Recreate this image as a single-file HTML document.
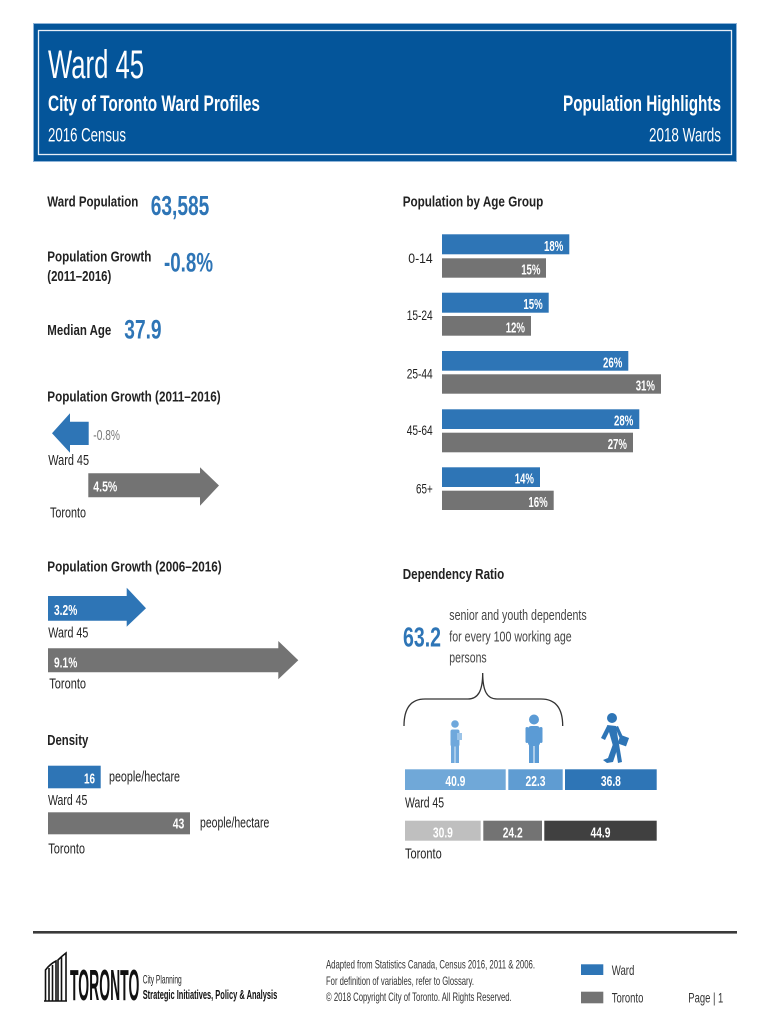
<!DOCTYPE html>
<html>
<head>
<meta charset="utf-8">
<style>
html,body{margin:0;padding:0;background:#fff;}
svg{display:block;}
text{font-family:"Liberation Sans",Arial,sans-serif;}
</style>
</head>
<body>
<svg width="770" height="1024" viewBox="0 0 770 1024" xmlns="http://www.w3.org/2000/svg">
<rect x="0" y="0" width="770" height="1024" fill="#ffffff"/>

<!-- Header -->
<rect x="33" y="23" width="704" height="139" fill="#04559a"/>
<rect x="33.5" y="23.5" width="703" height="138" fill="none" stroke="#8fb4d8" stroke-width="1"/>
<rect x="38.5" y="30.5" width="693" height="124" fill="none" stroke="#e6eef7" stroke-width="1.3"/>
<text x="48" y="78" font-size="40" fill="#fff" textLength="96" lengthAdjust="spacingAndGlyphs">Ward 45</text>
<text x="48" y="111" font-size="22" font-weight="bold" fill="#fff" textLength="212" lengthAdjust="spacingAndGlyphs">City of Toronto Ward Profiles</text>
<text x="48" y="141.5" font-size="19" fill="#fff" textLength="78" lengthAdjust="spacingAndGlyphs">2016 Census</text>
<text x="563" y="111" font-size="22" font-weight="bold" fill="#fff" textLength="158" lengthAdjust="spacingAndGlyphs">Population Highlights</text>
<text x="649" y="141.5" font-size="19" fill="#fff" textLength="72" lengthAdjust="spacingAndGlyphs">2018 Wards</text>

<!-- Key figures -->
<text x="47.3" y="206.7" font-size="15" font-weight="bold" fill="#222" textLength="91" lengthAdjust="spacingAndGlyphs">Ward Population</text>
<text x="150.7" y="215" font-size="28" font-weight="bold" fill="#2e75b6" textLength="58.6" lengthAdjust="spacingAndGlyphs">63,585</text>
<text x="47.3" y="261.7" font-size="15" font-weight="bold" fill="#222" textLength="104" lengthAdjust="spacingAndGlyphs">Population Growth</text>
<text x="47.3" y="281" font-size="15" font-weight="bold" fill="#222" textLength="64" lengthAdjust="spacingAndGlyphs">(2011–2016)</text>
<text x="164" y="271.7" font-size="27" font-weight="bold" fill="#2e75b6" textLength="49" lengthAdjust="spacingAndGlyphs">-0.8%</text>
<text x="47.3" y="335" font-size="15" font-weight="bold" fill="#222" textLength="64" lengthAdjust="spacingAndGlyphs">Median Age</text>
<text x="124.3" y="338.3" font-size="27" font-weight="bold" fill="#2e75b6" textLength="37.3" lengthAdjust="spacingAndGlyphs">37.9</text>

<!-- Population growth 2011-2016 -->
<text x="47.3" y="401.7" font-size="15" font-weight="bold" fill="#222" textLength="173.4" lengthAdjust="spacingAndGlyphs">Population Growth (2011–2016)</text>
<polygon points="52,433.3 70,413.3 70,421.7 88.7,421.7 88.7,445 70,445 70,452.7" fill="#2e75b6"/>
<text x="93.3" y="440" font-size="15" fill="#7a7a7a" textLength="26.7" lengthAdjust="spacingAndGlyphs">-0.8%</text>
<text x="48.3" y="465" font-size="15" fill="#222" textLength="40.7" lengthAdjust="spacingAndGlyphs">Ward 45</text>
<polygon points="88.3,473.3 200,473.3 200,467.3 219,485.5 200,505.7 200,497.3 88.3,497.3" fill="#737373"/>
<text x="93.3" y="491.7" font-size="15" font-weight="bold" fill="#fff" textLength="24" lengthAdjust="spacingAndGlyphs">4.5%</text>
<text x="50" y="517.3" font-size="15" fill="#222" textLength="36" lengthAdjust="spacingAndGlyphs">Toronto</text>

<!-- Population growth 2006-2016 -->
<text x="47.3" y="571.7" font-size="15" font-weight="bold" fill="#222" textLength="174.4" lengthAdjust="spacingAndGlyphs">Population Growth (2006–2016)</text>
<polygon points="48,596 126.7,596 126.7,587.7 146,608.3 126.7,626.7 126.7,620.7 48,620.7" fill="#2e75b6"/>
<text x="54" y="615" font-size="15" font-weight="bold" fill="#fff" textLength="23.3" lengthAdjust="spacingAndGlyphs">3.2%</text>
<text x="48.3" y="637.3" font-size="15" fill="#222" textLength="40" lengthAdjust="spacingAndGlyphs">Ward 45</text>
<polygon points="48,648.3 278.3,648.3 278.3,641 298.3,660.3 278.3,679.3 278.3,672.3 48,672.3" fill="#737373"/>
<text x="54" y="667.3" font-size="15" font-weight="bold" fill="#fff" textLength="23.3" lengthAdjust="spacingAndGlyphs">9.1%</text>
<text x="49.3" y="688.3" font-size="15" fill="#222" textLength="36.7" lengthAdjust="spacingAndGlyphs">Toronto</text>

<!-- Density -->
<text x="47.3" y="745" font-size="15" font-weight="bold" fill="#222" textLength="41" lengthAdjust="spacingAndGlyphs">Density</text>
<rect x="48" y="765.7" width="52.7" height="22.6" fill="#2e75b6"/>
<text x="95" y="783.3" font-size="15" font-weight="bold" fill="#fff" text-anchor="end" textLength="11" lengthAdjust="spacingAndGlyphs">16</text>
<text x="109" y="781.7" font-size="15" fill="#222" textLength="71" lengthAdjust="spacingAndGlyphs">people/hectare</text>
<text x="48" y="805" font-size="15" fill="#222" textLength="39.3" lengthAdjust="spacingAndGlyphs">Ward 45</text>
<rect x="48" y="812.3" width="142" height="22" fill="#737373"/>
<text x="184.3" y="828.3" font-size="15" font-weight="bold" fill="#fff" text-anchor="end" textLength="11.6" lengthAdjust="spacingAndGlyphs">43</text>
<text x="200" y="827.3" font-size="15" fill="#222" textLength="69.3" lengthAdjust="spacingAndGlyphs">people/hectare</text>
<text x="48.3" y="853.3" font-size="15" fill="#222" textLength="36.7" lengthAdjust="spacingAndGlyphs">Toronto</text>

<!-- Population by age group -->
<text x="402.7" y="206.7" font-size="15" font-weight="bold" fill="#222" textLength="140.6" lengthAdjust="spacingAndGlyphs">Population by Age Group</text>
<g font-size="14" fill="#222" text-anchor="end">
<text x="432.7" y="263" textLength="24.4" lengthAdjust="spacingAndGlyphs">0-14</text>
<text x="432.7" y="320" textLength="26" lengthAdjust="spacingAndGlyphs">15-24</text>
<text x="432.7" y="378.3" textLength="26" lengthAdjust="spacingAndGlyphs">25-44</text>
<text x="432.7" y="435" textLength="26" lengthAdjust="spacingAndGlyphs">45-64</text>
<text x="432.7" y="493.3" textLength="16.7" lengthAdjust="spacingAndGlyphs">65+</text>
</g>
<g>
<rect x="442" y="234.3" width="127.3" height="20" fill="#2e75b6"/>
<rect x="442" y="258.3" width="104" height="19.4" fill="#737373"/>
<rect x="442" y="292.7" width="106.7" height="20" fill="#2e75b6"/>
<rect x="442" y="316" width="89" height="19.7" fill="#737373"/>
<rect x="442" y="351" width="186.3" height="19.7" fill="#2e75b6"/>
<rect x="442" y="374.3" width="219" height="19.4" fill="#737373"/>
<rect x="442" y="409.3" width="197.3" height="19.7" fill="#2e75b6"/>
<rect x="442" y="432.7" width="191" height="19.6" fill="#737373"/>
<rect x="442" y="467.3" width="98" height="19.7" fill="#2e75b6"/>
<rect x="442" y="490.7" width="111.7" height="19.3" fill="#737373"/>
</g>
<g font-size="15" font-weight="bold" fill="#fff" text-anchor="end">
<text x="563.3" y="250.8" textLength="19.3" lengthAdjust="spacingAndGlyphs">18%</text>
<text x="540.5" y="274.5" textLength="19.3" lengthAdjust="spacingAndGlyphs">15%</text>
<text x="542.7" y="309" textLength="19.3" lengthAdjust="spacingAndGlyphs">15%</text>
<text x="525" y="332.3" textLength="19.3" lengthAdjust="spacingAndGlyphs">12%</text>
<text x="622.3" y="367.3" textLength="19.3" lengthAdjust="spacingAndGlyphs">26%</text>
<text x="655" y="390.6" textLength="19.3" lengthAdjust="spacingAndGlyphs">31%</text>
<text x="633.3" y="425.6" textLength="19.3" lengthAdjust="spacingAndGlyphs">28%</text>
<text x="627" y="449" textLength="19.3" lengthAdjust="spacingAndGlyphs">27%</text>
<text x="534" y="483.6" textLength="19.3" lengthAdjust="spacingAndGlyphs">14%</text>
<text x="547.7" y="507" textLength="19.3" lengthAdjust="spacingAndGlyphs">16%</text>
</g>

<!-- Dependency ratio -->
<text x="402.7" y="579" font-size="15" font-weight="bold" fill="#222" textLength="101.6" lengthAdjust="spacingAndGlyphs">Dependency Ratio</text>
<text x="403" y="646.7" font-size="28" font-weight="bold" fill="#2e75b6" textLength="38" lengthAdjust="spacingAndGlyphs">63.2</text>
<text x="449.3" y="620" font-size="15" fill="#444" textLength="137.4" lengthAdjust="spacingAndGlyphs">senior and youth dependents</text>
<text x="449.3" y="641.7" font-size="15" fill="#444" textLength="122.4" lengthAdjust="spacingAndGlyphs">for every 100 working age</text>
<text x="449.3" y="662.5" font-size="15" fill="#444" textLength="37.4" lengthAdjust="spacingAndGlyphs">persons</text>
<path d="M404,726 C404,709 410,699 425,699 L468,699 C478,699 482.7,691 482.7,673 C482.7,691 487,699 497,699 L541,699 C556,699 562.7,709 562.7,726" fill="none" stroke="#333" stroke-width="1.3"/>

<!-- icons -->
<g fill="#6fa8dc">
<circle cx="455" cy="724" r="3.8"/>
<rect x="450.5" y="729.5" width="9" height="17" rx="2"/>
<rect x="451" y="745" width="3.6" height="18"/>
<rect x="455.4" y="745" width="3.6" height="18"/>
<rect x="457" y="733" width="5" height="7" fill="#9cc4e8"/>
</g>
<g fill="#5b9bd5">
<circle cx="534" cy="719.5" r="5"/>
<rect x="528" y="726" width="12" height="20" rx="3"/>
<rect x="525.5" y="727" width="3" height="16" rx="1.5"/>
<rect x="539.5" y="727" width="3" height="16" rx="1.5"/>
<rect x="529" y="744" width="4.5" height="19"/>
<rect x="534.5" y="744" width="4.5" height="19"/>
</g>
<g fill="#2e75b6">
<circle cx="612" cy="718" r="5"/>
<polygon points="607,725 616,726 619,745 613,746"/>
<polygon points="613,744 619,744 613,762 607,763 603,760 608,758"/>
<polygon points="615,744 619,744 622,762 618,763"/>
<polygon points="607,726 611,728 605,740 601,738"/>
<polygon points="615,727 618,726 623,737 620,739"/>
<rect x="619" y="736" width="9" height="9" transform="rotate(20 623 740)"/>
</g>

<!-- dependency bars -->
<rect x="405" y="769.3" width="100.7" height="20.7" fill="#70a8d8"/>
<rect x="508.3" y="769.3" width="54.4" height="20.7" fill="#5f9cd2"/>
<rect x="565" y="769.3" width="91.7" height="20.7" fill="#2e75b6"/>
<g font-size="15" font-weight="bold" fill="#fff" text-anchor="middle">
<text x="455.4" y="786" textLength="20" lengthAdjust="spacingAndGlyphs">40.9</text>
<text x="535.5" y="786" textLength="20" lengthAdjust="spacingAndGlyphs">22.3</text>
<text x="610.9" y="786" textLength="20" lengthAdjust="spacingAndGlyphs">36.8</text>
</g>
<text x="405" y="807.3" font-size="15" fill="#222" textLength="39" lengthAdjust="spacingAndGlyphs">Ward 45</text>
<rect x="405" y="820.7" width="75.7" height="20" fill="#bfbfbf"/>
<rect x="483.3" y="820.7" width="58.7" height="20" fill="#737373"/>
<rect x="544.3" y="820.7" width="112.4" height="20" fill="#404040"/>
<g font-size="15" font-weight="bold" fill="#fff" text-anchor="middle">
<text x="442.9" y="837.3" textLength="20" lengthAdjust="spacingAndGlyphs">30.9</text>
<text x="512.7" y="837.3" textLength="20" lengthAdjust="spacingAndGlyphs">24.2</text>
<text x="600.5" y="837.3" textLength="20" lengthAdjust="spacingAndGlyphs">44.9</text>
</g>
<text x="405" y="858.3" font-size="15" fill="#222" textLength="36.7" lengthAdjust="spacingAndGlyphs">Toronto</text>

<!-- Footer -->
<rect x="33" y="931" width="704" height="2.6" fill="#3a3a3a"/>
<g fill="none" stroke="#111" stroke-width="1.6">
<path d="M44,1001 L67,1001"/>
<path d="M45.5,1001 L45.5,970 Q50,964 56,961 L56,1001"/>
<path d="M49,1001 L49,968"/>
<path d="M52.5,1001 L52.5,965"/>
<path d="M58,1001 L58,960 Q62,956 66,953 L66,1001"/>
<path d="M61.5,1001 L61.5,957"/>
</g>
<text x="70" y="1000" font-size="44" font-weight="bold" fill="#111" textLength="69.3" lengthAdjust="spacingAndGlyphs">TORONTO</text>
<text x="142.7" y="983.3" font-size="12" fill="#222" textLength="39" lengthAdjust="spacingAndGlyphs">City Planning</text>
<text x="142.7" y="999" font-size="13" font-weight="bold" fill="#111" textLength="134.6" lengthAdjust="spacingAndGlyphs">Strategic Initiatives, Policy &amp; Analysis</text>
<text x="326" y="968.3" font-size="12" fill="#333" textLength="209" lengthAdjust="spacingAndGlyphs">Adapted from Statistics Canada, Census 2016, 2011 &amp; 2006.</text>
<text x="326" y="985" font-size="12" fill="#333" textLength="148" lengthAdjust="spacingAndGlyphs">For definition of variables, refer to Glossary.</text>
<text x="326" y="1001" font-size="12" fill="#333" textLength="185.7" lengthAdjust="spacingAndGlyphs">© 2018 Copyright City of Toronto. All Rights Reserved.</text>
<rect x="581" y="964.3" width="22.3" height="10.7" fill="#2e75b6"/>
<rect x="581" y="991.7" width="22.3" height="11.6" fill="#737373"/>
<text x="611.7" y="975" font-size="14" fill="#333" textLength="22.7" lengthAdjust="spacingAndGlyphs">Ward</text>
<text x="611.7" y="1002.3" font-size="14" fill="#333" textLength="31.7" lengthAdjust="spacingAndGlyphs">Toronto</text>
<text x="688.3" y="1002.3" font-size="14" fill="#333" textLength="35" lengthAdjust="spacingAndGlyphs">Page | 1</text>
</svg>
</body>
</html>
